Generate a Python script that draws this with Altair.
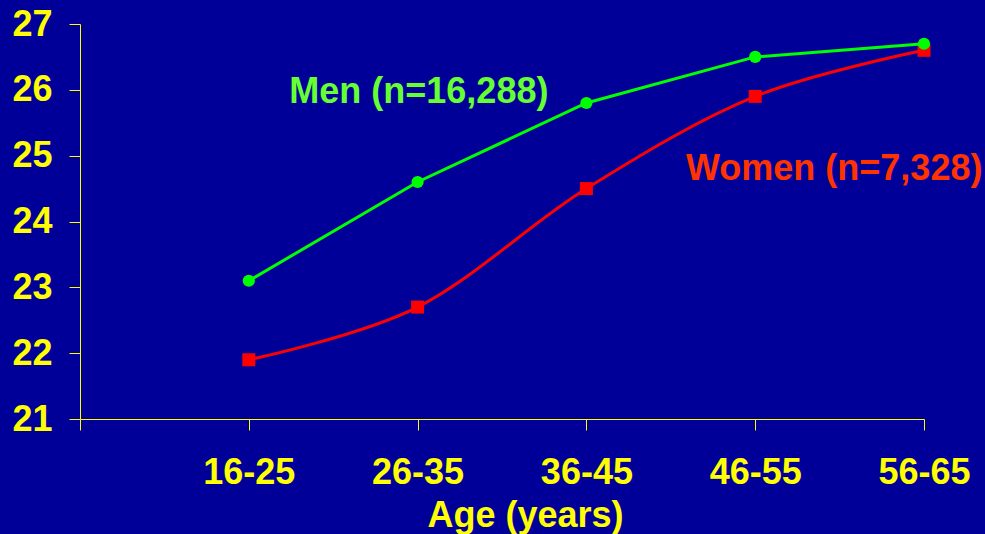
import altair as alt
import pandas as pd

age_groups = ["16-25", "26-35", "36-45", "46-55", "56-65"]
age_index = [1, 2, 3, 4, 5]
men_values = [23.1, 24.6, 25.8, 26.5, 26.7]
women_values = [21.9, 22.7, 24.5, 25.9, 26.6]

series_names = ["Men (n=16,288)", "Women (n=7,328)"]
label_x = [1.24, 3.59]
label_y = [25.80, 24.63]

BG = "#000099"
YELLOW = "#FFFF00"

men_df = pd.DataFrame({"idx": age_index, "age": age_groups, "value": men_values})
women_df = pd.DataFrame({"idx": age_index, "age": age_groups, "value": women_values})
labels_df = pd.DataFrame({"name": series_names, "x": label_x, "y": label_y,
                          "color": ["#66FF33", "#FF3300"]})

label_expr = ("datum.value == 1 ? '16-25' : datum.value == 2 ? '26-35' : "
              "datum.value == 3 ? '36-45' : datum.value == 4 ? '46-55' : "
              "datum.value == 5 ? '56-65' : ''")

x_enc = alt.X("idx:Q",
              scale=alt.Scale(domain=[0, 5], nice=False, zero=False),
              axis=alt.Axis(values=[0, 1, 2, 3, 4, 5], labelExpr=label_expr,
                            title="Age (years)", grid=False,
                            domainColor=YELLOW, tickColor=YELLOW, tickSize=11,
                            labelColor=YELLOW, labelFont="Liberation Sans",
                            labelFontSize=36, labelFontWeight="bold",
                            labelPadding=25, labelFlush=False, labelOverlap=False,
                            titleColor=YELLOW, titleFont="Liberation Sans",
                            titleFontSize=36, titleFontWeight="bold",
                            titleX=445, titleY=107, titleAlign="center",
                            titleBaseline="alphabetic"))
y_enc = alt.Y("value:Q",
              scale=alt.Scale(domain=[21, 27], nice=False, zero=False),
              axis=alt.Axis(values=[21, 22, 23, 24, 25, 26, 27], title=None,
                            format="d",
                            grid=False, domainColor=YELLOW, tickColor=YELLOW,
                            tickSize=11, labelColor=YELLOW,
                            labelFont="Liberation Sans", labelFontSize=36,
                            labelFontWeight="bold", labelPadding=17,
                            labelFlush=False, labelOverlap=False))

women_line = alt.Chart(women_df).mark_line(
    color="#FF0000", strokeWidth=3, interpolate="cardinal"
).encode(x=x_enc, y=y_enc)
women_pts = alt.Chart(women_df).mark_point(
    shape="square", filled=True, color="#FF0000", size=169, opacity=1
).encode(x="idx:Q", y="value:Q")

men_line = alt.Chart(men_df).mark_line(
    color="#00FF00", strokeWidth=3
).encode(x="idx:Q", y="value:Q")
men_pts = alt.Chart(men_df).mark_point(
    shape="circle", filled=True, color="#00FF00", size=150, opacity=1
).encode(x="idx:Q", y="value:Q")

texts = alt.Chart(labels_df).mark_text(
    align="left", baseline="alphabetic", font="Liberation Sans",
    fontSize=36, fontWeight="bold"
).encode(x="x:Q", y="y:Q", text="name:N",
         color=alt.Color("color:N", scale=None))

chart = alt.layer(women_line, women_pts, men_line, men_pts, texts).properties(
    width=844, height=395, background=BG,
    padding={"left": 80, "top": 24, "right": 61, "bottom": 115},
    autosize=alt.AutoSizeParams(type="none")
).configure_view(stroke=None, fill=BG)

chart.save("out.html", embed_options={"renderer": "svg", "actions": False})
